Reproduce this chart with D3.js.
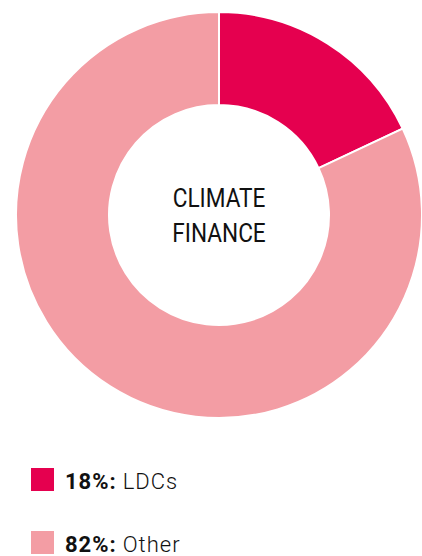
<!DOCTYPE html>
<html><head><meta charset="utf-8">
<script src="https://cdn.jsdelivr.net/npm/d3@7"></script>
<style>body{margin:0;background:#fff}svg{display:block}</style>
</head><body>
<svg id="c" width="422" height="556"></svg>
<script>
const categories = ["LDCs", "Other"];
const values = [18, 82];
const colors = ["#E5004F", "#F39DA4"];
const centerLabel = ["CLIMATE", "FINANCE"];

const svg = d3.select("#c");
const cx = 219, cy = 215, rOut = 203, rIn = 110;
const pie = d3.pie().sort(null).value(d => d)(values);
const arc = d3.arc().innerRadius(rIn).outerRadius(rOut);
const g = svg.append("g").attr("transform", `translate(${cx},${cy})`);
g.selectAll("path").data(pie).join("path")
  .attr("d", arc)
  .attr("fill", (d, i) => colors[i])
  .attr("stroke", "#fff").attr("stroke-width", 2);

g.selectAll("text.c").data(centerLabel).join("text")
  .attr("class", "c")
  .attr("text-anchor", "middle")
  .attr("y", (d, i) => -8 + i * 35)
  .attr("font-family", "Roboto, sans-serif")
  .attr("font-size", 26)
  .attr("fill", "#111")
  .attr("transform", "scale(0.87,1)")
  .text(d => d);

const leg = svg.append("g");
const items = leg.selectAll("g").data(categories).join("g")
  .attr("transform", (d, i) => `translate(31,${468 + i * 63})`);
items.append("rect").attr("width", 23).attr("height", 23)
  .attr("fill", (d, i) => colors[i]);
const t = items.append("text").attr("x", 34).attr("y", 21)
  .attr("font-family", "Roboto, sans-serif").attr("font-size", 22)
  .attr("letter-spacing", 1).attr("fill", "#111");
t.append("tspan").attr("font-weight", "bold").text((d, i) => values[i] + "%:");
t.append("tspan").attr("dx", 6).attr("font-weight", "300").text(d => d);
</script>
</body></html>
